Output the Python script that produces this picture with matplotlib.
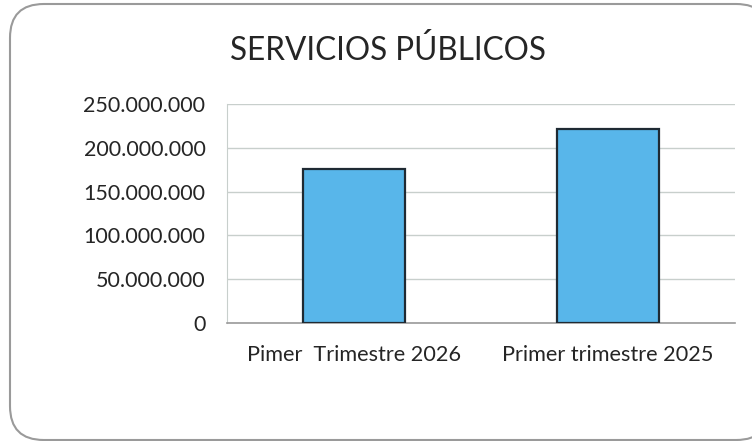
import matplotlib
matplotlib.use("Agg")
import matplotlib.pyplot as plt
from matplotlib.patches import FancyBboxPatch
from matplotlib.ticker import FuncFormatter

categories = ["Pimer  Trimestre 2026", "Primer trimestre 2025"]
values = [176_000_000, 222_000_000]
yticks = [0, 50_000_000, 100_000_000, 150_000_000, 200_000_000, 250_000_000]
title = "SERVICIOS PÚBLICOS"

plt.rcParams['font.family'] = ['Lato', 'DejaVu Sans']

W, H = 752, 441
fig = plt.figure(figsize=(W / 100, H / 100), dpi=100)
fig.patch.set_facecolor("white")

# rounded outer frame
box = FancyBboxPatch((10 / W, 1 - 440 / H), (770 - 10) / W, (440 - 4) / H,
                     boxstyle="round,pad=0,rounding_size=0.045",
                     transform=fig.transFigure, facecolor="white",
                     edgecolor="#9a9a9a", linewidth=1.5, zorder=-5,
                     mutation_aspect=W / H)
fig.patches.append(box)

ax = fig.add_axes([227 / W, 1 - 323 / H, (735 - 227) / W, (323 - 104) / H])
ax.set_zorder(2)
ax.set_facecolor("none")
x = range(len(categories))
ax.bar(x, values, width=0.4, color="#58B6EA", edgecolor="#1f2a33", linewidth=1.6, zorder=3)
ax.set_xlim(-0.5, 1.5)
ax.set_ylim(0, 250_000_000)
ax.set_yticks(yticks)
ax.yaxis.set_major_formatter(FuncFormatter(lambda v, p: f"{int(v):,}".replace(",", ".")))
ax.set_xticks(list(x))
ax.set_xticklabels(categories)
ax.grid(axis="y", color="#c8cfcc", linewidth=1.0, zorder=0)
for s in ["top", "right"]:
    ax.spines[s].set_visible(False)
ax.spines["left"].set_color("#c8cfcc")
ax.spines["bottom"].set_color("#9a9a9a")
ax.spines["bottom"].set_linewidth(1.2)
ax.tick_params(axis="y", length=0, labelsize=15.5, colors="#252525", pad=15.5)
ax.tick_params(axis="x", length=0, labelsize=15.6, colors="#252525", pad=16)

fig.text(388 / W, 1 - 50 / H, title, ha="center", va="center", fontsize=22.7, color="#252525")

fig.savefig("out.png", dpi=100)
